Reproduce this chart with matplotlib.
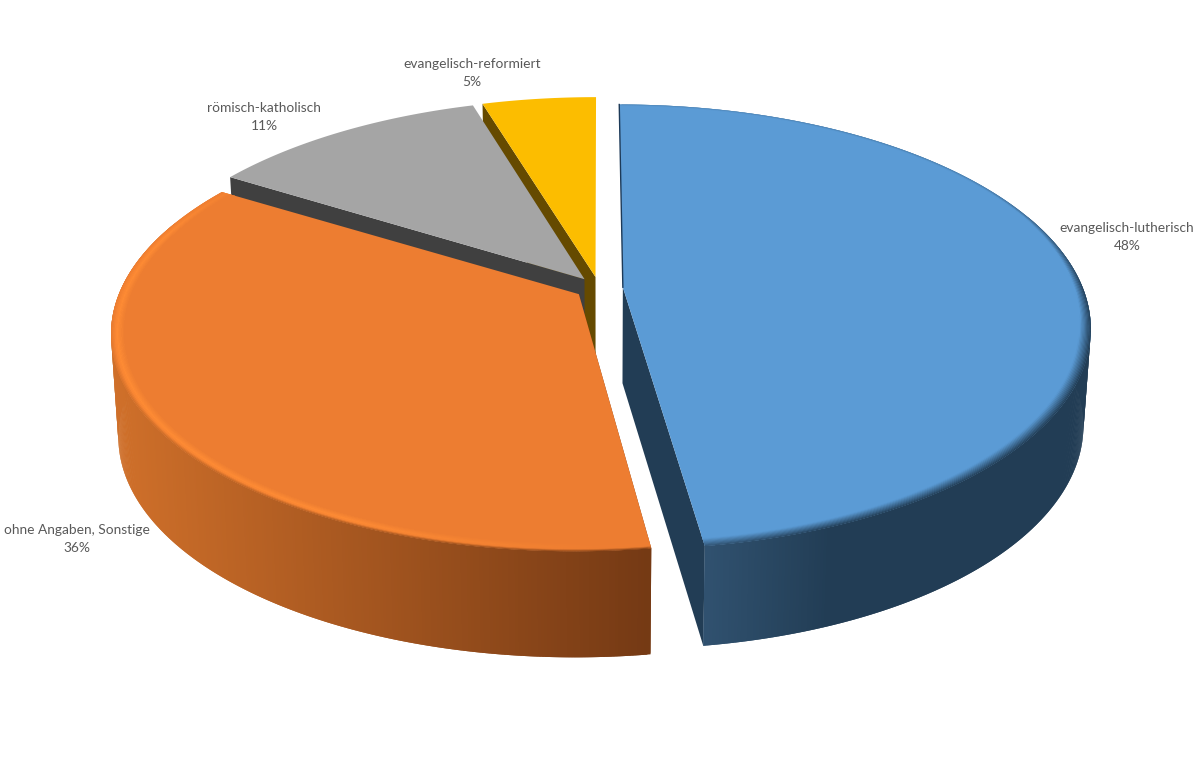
"""3D-look pie of denominations, drawn by projecting a disc with perspective."""
import numpy as np
import matplotlib
matplotlib.use("Agg")
import matplotlib.pyplot as plt
from matplotlib.collections import PolyCollection
from matplotlib.colors import to_rgb

names = ["evangelisch-lutherisch", "ohne Angaben, Sonstige", "römisch-katholisch", "evangelisch-reformiert"]
shares = [47.8, 36.0, 11.5, 4.7]
percent_labels = ["48%", "36%", "11%", "5%"]

top_colors = ["#5b9bd5", "#ed7d31", "#a5a5a5", "#fcbd00"]
cut_colors = ["#223d55", "#763a15", "#404040", "#654a00"]
depths = [96, 102, 95, 95]
# slice scale across and along the view direction
scale_u = [1.0, 0.995, 1.0, 1.0]
scale_v = [1.0, 0.975, 1.0, 1.0]

# projection of the unit disc to pixels
CX, CY, RX, RY, PERSP = 599, 288, 460, 215.5, 0.178
EXPLODE = 0.052
label_xy = [(1127, 236.5), (77, 538.5), (264, 117.5), (472, 72.5)]


def project(u, v):
    w = 1 + PERSP * v
    return CX + RX * u / w, CY - RY * v / w


def drop(x, y, v, depth):
    # bottom edge of the slab: pulled in a little towards the middle
    return CX + (x - CX) * 0.985, y + depth * (1 + 0.04 * -v)


def mix(a, b, t):
    a, b = np.array(to_rgb(a)), np.array(to_rgb(b))
    return tuple(a + (b - a) * np.clip(t, 0, 1))


def blue_wall(x):
    return mix("#30516f", "#223d55", (x - 707) / 120)


def orange_wall(x):
    return mix("#d0702a", "#743914", (x - 118) / 537)


def rim_orange(r, theta, x):
    strength = np.clip((theta - 175) / 30, 0.1, 1) * np.clip((312 - theta) / 25, 0.2, 1)
    c = mix("#ed7d31", "#ff8c35", (1 - abs(r - 0.986) / 0.015) * strength)
    front = np.clip(-np.cos(np.radians(theta)) * 2, 0, 1)
    return mix(c, orange_wall(x), (r - 0.992) / 0.008 * front)


def rim_blue(r, theta, x):
    start = 0.975 if theta > 105 else 0.991 - 0.016 * np.clip((theta - 70) / 35, 0, 1)
    strength = np.clip((theta - 40) / 50, 0.35, 1)
    return mix("#5b9bd5", blue_wall(x), (r - start) / (1 - start) * strength)


def draw_slice(ax, i, start, stop, z):
    mid = np.radians((start + stop) / 2)
    ou, ov = EXPLODE * np.sin(mid), EXPLODE * np.cos(mid)
    thetas = np.linspace(start, stop, max(int(stop - start) * 3, 12))
    rad = np.radians(thetas)
    su, sv = scale_u[i], scale_v[i]
    u, v = ou + su * np.sin(rad), ov + sv * np.cos(rad)
    x, y = project(u, v)
    ax_, ay_ = project(ou, ov)
    bx, by = drop(x, y, v, depths[i])
    abx, aby = drop(ax_, ay_, ov, depths[i])

    # cut faces
    k = -1 if i == 0 else 0
    ax.fill([ax_, x[k], bx[k], abx], [ay_, y[k], by[k], aby], color=cut_colors[i], lw=0, zorder=z)

    # outer wall as narrow overlapping strips so the shading can run along it
    quads, cols = [], []
    for j in range(len(x) - 1):
        if np.cos(rad[j]) > 0.35:
            continue
        n = min(j + 2, len(x) - 1)
        quads.append([(x[j], y[j]), (x[n], y[n]), (bx[n], by[n]), (bx[j], by[j])])
        xm = (bx[j] + bx[j + 1]) / 2
        cols.append(blue_wall(xm) if i == 0 else orange_wall(xm))
    if i in (0, 1):
        order = quads if i == 0 else quads[::-1]
        ax.add_collection(PolyCollection(order, facecolors=cols if i == 0 else cols[::-1],
                                         edgecolors="none", zorder=z + 0.1))

    # top face
    ax.fill(np.r_[ax_, x], np.r_[ay_, y], color=top_colors[i], lw=0, zorder=z + 0.2)

    # soft bevel along the rim of the two big slices, outer rings painted first
    if i in (0, 1):
        rings = np.linspace(0.96, 1.0, 17)[::-1]
        quads, cols = [], []
        for r1, r0 in zip(rings[:-1], rings[1:]):
            for j in range(len(x) - 1):
                n = min(j + 2, len(x) - 1)
                t0, t1 = rad[j], rad[n]
                quads.append([project(ou + su * q * np.sin(t), ov + sv * q * np.cos(t))
                              for q, t in ((r0, t0), (r0, t1), (r1, t1), (r1, t0))])
                rc, tc = (r0 + r1) / 2, (thetas[j] + thetas[j + 1]) / 2
                cols.append(rim_blue(rc, tc, x[j]) if i == 0 else rim_orange(rc, tc, x[j]))
        ax.add_collection(PolyCollection(quads, facecolors=cols, edgecolors="none", zorder=z + 0.3))

    # dark edge on the cut of the blue slice that faces away
    if i == 0:
        ax.plot([ax_, x[0]], [ay_, y[0]], color="#1d3a58", lw=1.0, zorder=z + 0.35)


def main():
    fig = plt.figure(figsize=(12, 7.75), dpi=100)
    ax = fig.add_axes([0, 0, 1, 1])
    ax.set_xlim(0, 1200)
    ax.set_ylim(775, 0)
    ax.axis("off")

    edges = np.r_[0, np.cumsum(shares)] / np.sum(shares) * 360
    # painted back to front
    for z, i in enumerate((3, 2, 1, 0)):
        draw_slice(ax, i, edges[i], edges[i + 1], z)

    for name, pct, (lx, ly) in zip(names, percent_labels, label_xy):
        ax.text(lx, ly, f"{name}\n{pct}", ha="center", va="center", fontsize=9.9, family="Lato",
                color="#595959", linespacing=1.6, zorder=10)

    fig.savefig("out.png", dpi=100)


main()
